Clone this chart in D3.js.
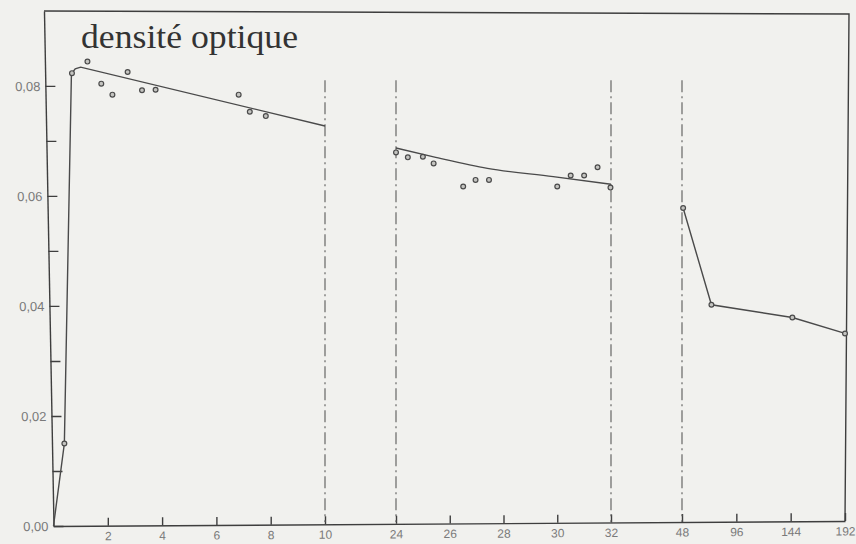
<!DOCTYPE html>
<html>
<head>
<meta charset="utf-8">
<script src="https://cdn.jsdelivr.net/npm/d3@7"></script>
<style>
	body { margin: 0; background: #f1f1ee; }
	svg { display: block; }
	.axis path, .axis line { stroke: #3e3e3e; stroke-width: 1.4; }
	.axis text { fill: #7a7a7a; font-family: "Liberation Sans", Arial, sans-serif; font-size: 13px; }
	.x-axis text { font-size: 12px; }
</style>
</head>
<body>
<div id="chart-area"></div>
<script>

// SVG Size
let width = 856,
	height = 544;

// Axis ticks
const yTicks = [0, 0.02, 0.04, 0.06, 0.08];
const yMinorTicks = [0.01, 0.03, 0.05, 0.07];
const xTicks = [2, 4, 6, 8, 10, 24, 26, 28, 30, 32, 48, 96, 144, 192];
const xBreaks = [10, 24, 32, 48];   // dash-dot separators

// Measured points (hours, optical density)
const hours1 = [0.4, 0.68, 1.25, 1.76, 2.17, 2.73, 3.26, 3.76, 6.82, 7.23, 7.82];
const density1 = [0.0150, 0.0823, 0.0844, 0.0804, 0.0784, 0.0825, 0.0792, 0.0793, 0.0784, 0.0753, 0.0745];

const hours2 = [24, 24.44, 25.0, 25.4, 26.5, 26.96, 27.46, 30.0, 30.5, 31.0, 31.5, 31.98];
const density2 = [0.0679, 0.0670, 0.0671, 0.0659, 0.0617, 0.0629, 0.0629, 0.0617, 0.0637, 0.0637, 0.0652, 0.0615];

const hours3 = [49, 74, 145.5, 192];
const density3 = [0.0578, 0.0402, 0.0379, 0.0350];

// Drawn curves
const fitHours1 = [0, 0.4, 0.66, 0.8, 1.0, 10];
const fitDensity1 = [0, 0.0150, 0.0822, 0.0831, 0.0834, 0.0727];

const fitHours2 = [24, 25.4, 27.4, 29.85, 32];
const fitDensity2 = [0.0687, 0.0671, 0.0650, 0.0635, 0.0621];

const fitHours3 = hours3;
const fitDensity3 = density3;

drawChart();

function drawChart() {

	let svg = d3.select("#chart-area")
		.append("svg")
		.attr("width", width)
		.attr("height", height);

	const x0 = 53.5, y0 = 526;

	// broken time axis: 0-10 h, 24-32 h, 48-192 h
	const xScale = d3.scaleLinear()
		.domain([0, 10, 24, 32, 48, 192])
		.range([x0, 325, 396, 611, 682, 845]);

	const yScale = d3.scaleLinear()
		.domain([0, 0.0936])
		.range([y0, 11]);

	const fr = d3.formatLocale({decimal: ",", thousands: " ", grouping: [3], currency: ["", ""]});
	const fmt = fr.format(".2f");

	// frame (top and right), slightly skewed like the scan
	svg.append("path")
		.attr("d", "M44,11 L849,14 L845,521")
		.attr("fill", "none")
		.attr("stroke", "#3e3e3e")
		.attr("stroke-width", 1.4);

	// y axis (tilted by ~1 deg)
	let yAxisG = svg.append("g")
		.attr("class", "axis y-axis")
		.attr("transform", `translate(${x0},${y0}) skewX(1.06) translate(0,${-y0})`);

	yAxisG.call(d3.axisLeft(yScale)
		.tickValues(yTicks)
		.tickFormat(fmt)
		.tickSizeInner(-10)
		.tickSizeOuter(0)
		.tickPadding(5));

	yAxisG.append("g")
		.call(d3.axisLeft(yScale)
			.tickValues(yMinorTicks)
			.tickFormat("")
			.tickSizeInner(-10)
			.tickSizeOuter(0))
		.select(".domain").remove();

	// x axis
	svg.append("g")
		.attr("class", "axis x-axis")
		.attr("transform", `translate(${x0},${y0}) skewY(-0.36) translate(${-x0},0)`)
		.call(d3.axisBottom(xScale)
			.tickValues(xTicks)
			.tickFormat(d3.format("d"))
			.tickSizeInner(-8)
			.tickSizeOuter(0)
			.tickPadding(6));

	// dash-dot separators
	svg.selectAll(".sep")
		.data(xBreaks)
		.enter()
		.append("line")
		.attr("class", "sep")
		.attr("x1", d => xScale(d))
		.attr("x2", d => xScale(d))
		.attr("y1", yScale(0.081))
		.attr("y2", yScale(0) - 4)
		.attr("stroke", "#5a5a5a")
		.attr("stroke-width", 1.1)
		.attr("stroke-dasharray", "12,4,2,4");

	// curves
	const line = d3.line()
		.x(d => xScale(d[0]))
		.y(d => yScale(d[1]));

	const fits = [
		{pts: d3.zip(fitHours1, fitDensity1), curve: d3.curveLinear},
		{pts: d3.zip(fitHours2, fitDensity2), curve: d3.curveMonotoneX},
		{pts: d3.zip(fitHours3, fitDensity3), curve: d3.curveLinear}
	];

	svg.selectAll(".fit")
		.data(fits)
		.enter()
		.append("path")
		.attr("class", "fit")
		.attr("d", d => line.curve(d.curve)(d.pts))
		.attr("fill", "none")
		.attr("stroke", "#4a4a4a")
		.attr("stroke-width", 1.4);

	// points
	const points = d3.zip(hours1, density1)
		.concat(d3.zip(hours2, density2))
		.concat(d3.zip(hours3, density3));

	svg.selectAll("circle")
		.data(points)
		.enter()
		.append("circle")
		.attr("cx", d => xScale(d[0]))
		.attr("cy", d => yScale(d[1]))
		.attr("r", 2.4)
		.style("fill", "#c4c4c0")
		.style("stroke", "#4a4a4a")
		.style("stroke-width", 1.2);

	// title
	svg.append("text")
		.attr("x", 81)
		.attr("y", 47.5)
		.attr("textLength", 217)
		.attr("lengthAdjust", "spacingAndGlyphs")
		.style("font-family", "'Liberation Serif', 'DejaVu Serif', serif")
		.style("font-size", "33px")
		.style("fill", "#333")
		.text("densité optique");
}

</script>
</body>
</html>
